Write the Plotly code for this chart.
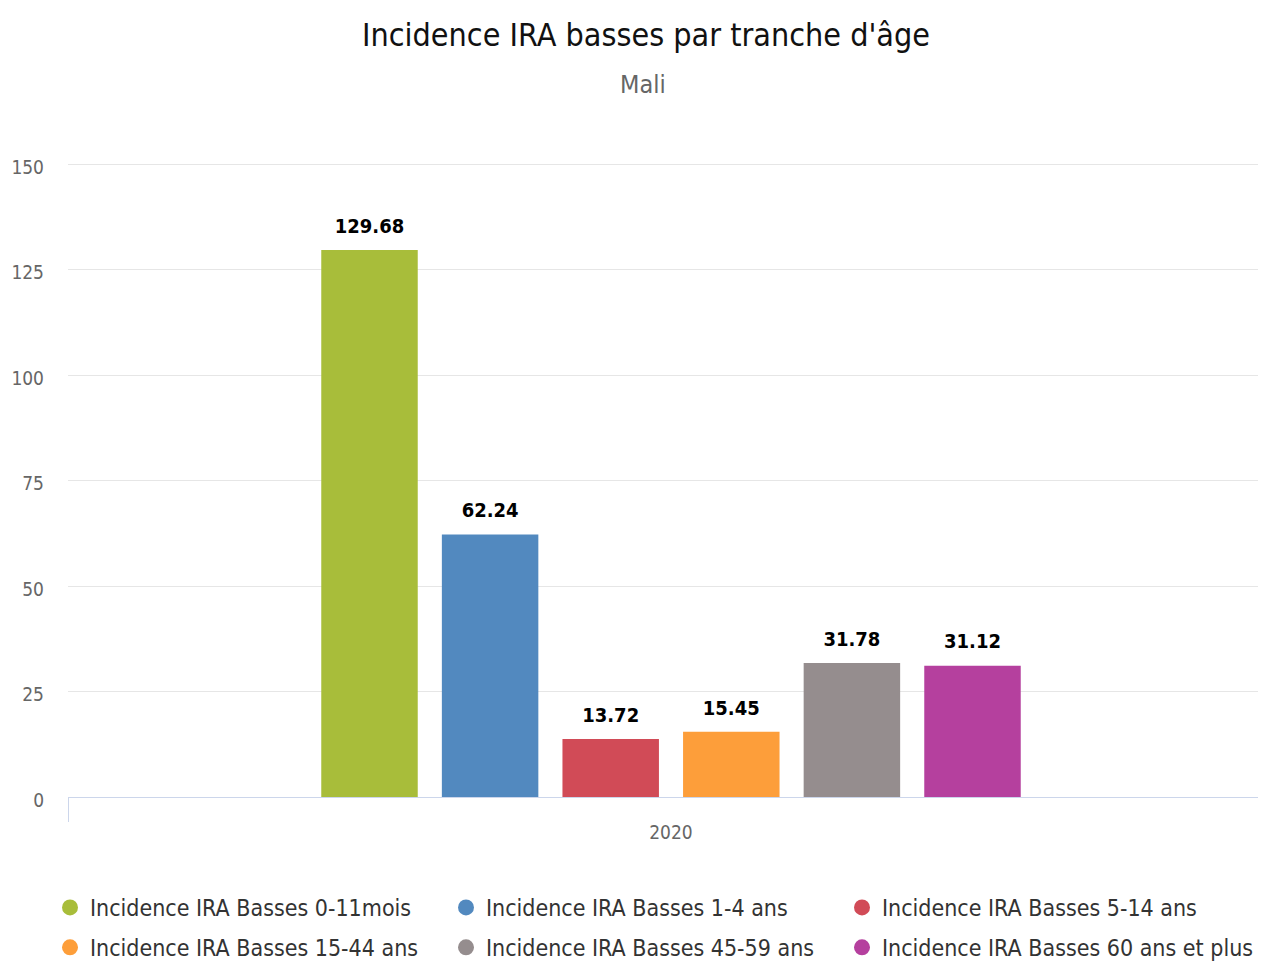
import plotly.graph_objects as go

categories = ["2020"]
series_names = [
    "Incidence IRA Basses 0-11mois",
    "Incidence IRA Basses 1-4 ans",
    "Incidence IRA Basses 5-14 ans",
    "Incidence IRA Basses 15-44 ans",
    "Incidence IRA Basses 45-59 ans",
    "Incidence IRA Basses 60 ans et plus",
]
series_values = [129.68, 62.24, 13.72, 15.45, 31.78, 31.12]
colors = ["#a8bd3a", "#5289bf", "#d14b57", "#fd9e3a", "#958d8e", "#b5409e"]
y_ticks = [0, 25, 50, 75, 100, 125, 150]

FONT = "DejaVu Sans Condensed, DejaVu Sans"
W, H = 1266, 955  # page body adds an 8px margin
L, T, B = 60, 152, 166
PW, PH = W - L, H - T - B

fig = go.Figure()
for i, (name, val, col) in enumerate(zip(series_names, series_values, colors)):
    fig.add_trace(go.Bar(
        x=categories, y=[val], name=name, offsetgroup=str(i),
        marker=dict(color=col, line=dict(width=0)),
        showlegend=False, hoverinfo="x+y+name",
    ))
# data labels, grouped the same way as the bars
for i, (name, val) in enumerate(zip(series_names, series_values)):
    fig.add_trace(go.Scatter(
        x=categories, y=[val], mode="markers+text", offsetgroup=str(i),
        marker=dict(size=18, opacity=0), text=[f"<b>{val:.2f}</b>"],
        textposition="top center", textfont=dict(family=FONT, size=20, color="#000000"),
        cliponaxis=False, showlegend=False, hoverinfo="skip",
    ))
# legend entries with circle symbols: three columns, two rows
legend_ids = ["legend", "legend2", "legend3"]
for i, (name, col) in enumerate(zip(series_names, colors)):
    fig.add_trace(go.Scatter(
        x=[None], y=[None], mode="markers", name=name,
        legend=legend_ids[i % 3], legendgroup=f"g{i}",
        marker=dict(color=col, size=16, symbol="circle"),
    ))

col_x = [42, 438, 834]
legend_common = dict(orientation="v", xref="container", yref="container",
                     y=1 - 878 / H, xanchor="left", yanchor="top", itemwidth=30,
                     font=dict(family=FONT, size=23, color="#333333"),
                     tracegroupgap=7, traceorder="grouped", bgcolor="rgba(0,0,0,0)")

fig.update_layout(
    width=W, height=H,
    paper_bgcolor="white", plot_bgcolor="white",
    margin=dict(l=L, r=0, t=T, b=B, autoexpand=False),
    barmode="group", bargap=0.4, bargroupgap=0.2,
    scattermode="group", scattergap=0.4,
    font=dict(family=FONT, color="#333333"),
    title=dict(text="Incidence IRA basses par tranche d'âge", x=638 / W, xanchor="center",
               y=1 - 27 / H, yanchor="middle", yref="container",
               font=dict(family=FONT, size=32, color="#111111")),
    annotations=[dict(text="Mali", xref="paper", yref="paper", x=(635 - L) / PW,
                      y=1 + (T - 76) / PH, xanchor="center", yanchor="middle",
                      showarrow=False, font=dict(family=FONT, size=25, color="#666666"))],
    legend=dict(x=col_x[0] / W, **legend_common),
    legend2=dict(x=col_x[1] / W, **legend_common),
    legend3=dict(x=col_x[2] / W, **legend_common),
    xaxis=dict(type="category", showgrid=False, showline=True, linecolor="#ccd6eb", linewidth=1,
               ticks="outside", tickson="boundaries", ticklen=24, tickcolor="#ccd6eb",
               ticklabelstandoff=18,
               tickfont=dict(family=FONT, size=19, color="#666666"), range=[-0.5, 0.5]),
    yaxis=dict(range=[0, 151], tickvals=y_ticks, showgrid=True, gridcolor="#e6e6e6", gridwidth=1,
               zeroline=False, showline=False, ticks="", ticklabelstandoff=23, ticklabelshift=3,
               tickfont=dict(family=FONT, size=19, color="#666666")),
)

fig.write_html("out.html")
